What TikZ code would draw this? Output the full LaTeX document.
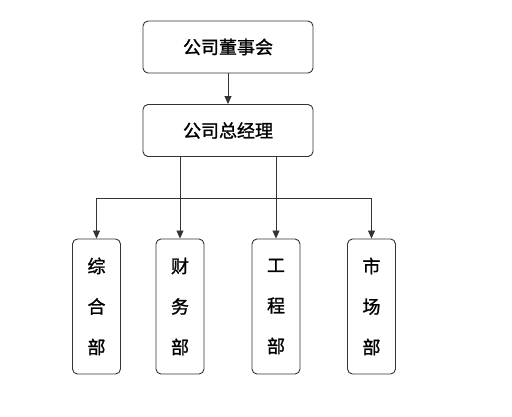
\documentclass[tikz,border=0pt]{standalone}
\usepackage{fontspec}
\newfontfamily\cjk{Noto Sans CJK SC}[RawFeature={embolden=1.3}]
\usetikzlibrary{arrows.meta}
\begin{document}
\begin{tikzpicture}[x=1pt,y=-1pt,
  box/.style={draw=black!80,line width=0.9pt,rounded corners=5pt,inner sep=0pt,font=\cjk\fontsize{18}{18}\selectfont},
  dept/.style={box,minimum width=48pt,minimum height=135pt,align=center,font=\cjk\fontsize{18}{40.5}\selectfont},
  conn/.style={draw=black!80,line width=0.9pt,-{Triangle[width=7pt,length=8pt]}}]
\useasboundingbox (0,0) rectangle (512,417);
\node[box,minimum width=170pt,minimum height=52pt] (board) at (228,47) {公司董事会};
\node[box,minimum width=170pt,minimum height=52pt] (gm) at (228,130.5) {公司总经理};
\node[dept] (d1) at (96.5,306.5) {综\\合\\部};
\node[dept] (d2) at (180,306.5) {财\\务\\部};
\node[dept] (d3) at (276,306.5) {工\\程\\部};
\node[dept] (d4) at (371.5,306.5) {市\\场\\部};
\coordinate (bar) at (0,198);
\draw[conn] (board) -- (gm);
\draw[conn] (gm.south -| d2.north) -- (d2.north);
\draw[conn] (gm.south -| d3.north) -- (d3.north);
\draw[draw=black!80,line width=0.9pt] (bar -| d1.north) -- (bar -| d4.north);
\draw[conn] (bar -| d1.north) -- (d1.north);
\draw[conn] (bar -| d4.north) -- (d4.north);
\end{tikzpicture}
\end{document}
